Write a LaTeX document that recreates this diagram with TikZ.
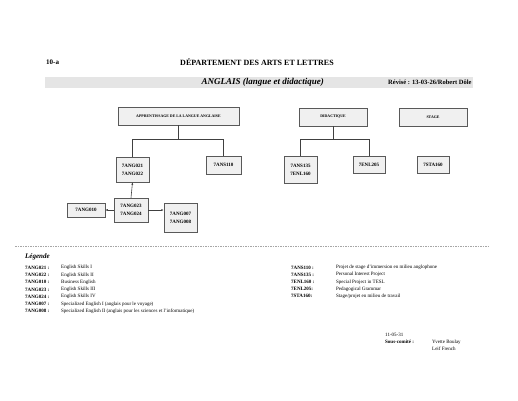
\documentclass[tikz,border=0pt]{standalone}
\usepackage{fontspec}
\setmainfont{Liberation Serif}
\usetikzlibrary{shadows,arrows.meta}
\begin{document}
\begin{tikzpicture}[x=1pt,y=-1pt,
  box/.style={draw=gray!70!black, line width=0.5pt, fill=gray!12, font=\bfseries\fontsize{3.9}{7}\selectfont, align=center, inner sep=0pt,
    drop shadow={shadow xshift=0.8pt, shadow yshift=-0.8pt, fill=gray!55, opacity=1}},
  link/.style={draw=gray!50!black, line width=0.6pt},
  arr/.style={link, -{Latex[length=2.5pt,width=2pt]}},
  txt/.style={inner sep=0pt, anchor=west, font=\fontsize{5}{6}\selectfont},
  code/.style={txt, font=\bfseries\fontsize{5}{6}\selectfont}]
\useasboundingbox (0,0) rectangle (518,400);
% header
\node[txt, font=\bfseries\fontsize{7}{8}\selectfont] (num) at (46,62) {10-a};
\node[inner sep=0pt, font=\bfseries\fontsize{8}{9}\selectfont] (dept) at (257,62) {DÉPARTEMENT DES ARTS ET LETTRES};
\fill[gray!20] (45,77) rectangle (473,88);
\node[inner sep=0pt, anchor=east, font=\bfseries\itshape\fontsize{9}{10}\selectfont] (title) at (324,82.5) {ANGLAIS (langue et didactique)};
\node[txt, font=\bfseries\fontsize{6.5}{7}\selectfont] (rev) at (388,82.5) {Révisé : 13-03-26/Robert Dôle};
% boxes
\node[box, minimum width=121pt, minimum height=18pt] (app) at (178.5,116) {APPRENTISSAGE DE LA LANGUE ANGLAISE};
\node[box, minimum width=68pt, minimum height=18pt] (did) at (333,117) {DIDACTIQUE};
\node[box, minimum width=68pt, minimum height=18pt] (stage) at (433,117) {STAGE};
\node[box, minimum width=33pt, minimum height=25pt, font=\bfseries\fontsize{5}{8}\selectfont] (g21) at (132.5,169.5) {7ANG021\\7ANG022};
\node[box, minimum width=35pt, minimum height=18pt, font=\bfseries\fontsize{5}{8}\selectfont] (s110) at (223.5,165) {7ANS110};
\node[box, minimum width=33pt, minimum height=27pt, font=\bfseries\fontsize{5}{8}\selectfont] (s135) at (300.5,169.5) {7ANS135\\7ENL160};
\node[box, minimum width=32pt, minimum height=17pt, font=\bfseries\fontsize{5}{8}\selectfont] (e205) at (369,164.5) {7ENL205};
\node[box, minimum width=32pt, minimum height=17pt, font=\bfseries\fontsize{5}{8}\selectfont] (sta) at (433,164.5) {7STA160};
\node[box, minimum width=38pt, minimum height=14pt, font=\bfseries\fontsize{5}{8}\selectfont] (g10) at (86,210) {7ANG010};
\node[box, minimum width=34pt, minimum height=24pt, font=\bfseries\fontsize{5}{8}\selectfont] (g23) at (131,210) {7ANG023\\7ANG024};
\node[box, minimum width=33pt, minimum height=29pt, font=\bfseries\fontsize{5}{8}\selectfont] (g07) at (180.5,217.5) {7ANG007\\7ANG008};
% connectors
\draw[link] (app.south) -- ++(0,14) coordinate (busA) -| (g21.north);
\draw[link] (busA) -| (s110.north);
\draw[link] (did.south) -- ++(0,13) coordinate (busD) -| (s135.north);
\draw[link] (busD) -| (e205.north);
\draw[arr] (g23.north) -- (g21.south);
\draw[arr] (g23.west) -- (g10.east);
\draw[arr] (g23.east) -- (g23.east -| g07.west);
% separator
\draw[gray!70, line width=0.6pt, dash pattern=on 1.5pt off 1pt] (15,246) -- (490,246);
% legend
\node[txt, font=\bfseries\itshape\fontsize{7}{8}\selectfont] (leg) at (25,257) {Légende};
\foreach \c/\d [count=\i from 0] in {7ANG021 :/English Skills I, 7ANG022 :/English Skills II, 7ANG010 :/Business English, 7ANG023 :/English Skills III, 7ANG024 :/English Skills IV, 7ANG007 :/Specialized English I (anglais pour le voyage), 7ANG008 :/Specialized English II (anglais pour les sciences et l'informatique)}{
  \node[code] (lc\i) at (25,267.5+7.3*\i) {\c};
  \node[txt] (ld\i) at (61,267.5+7.3*\i) {\d};
}
\foreach \c/\d [count=\i from 0] in {7ANS110 :/Projet de stage d'immersion en milieu anglophone, 7ANS135 :/Personal Interest Project, 7ENL160 :/Special Project in TESL, 7ENL205:/Pedagogical Grammar, 7STA160:/{Stage/projet en milieu de travail}}{
  \node[code] (rc\i) at (291,267.5+7.2*\i) {\c};
  \node[txt] (rd\i) at (336,267.5+7.2*\i) {\d};
}
% signature
\node[txt] (date) at (385,335) {11-05-31};
\node[code] (sc) at (385,342) {Sous-comité :};
\node[txt] (yb) at (432,342) {Yvette Boulay};
\node[txt] (lf) at (432,349) {Leif French};
\end{tikzpicture}
\end{document}
